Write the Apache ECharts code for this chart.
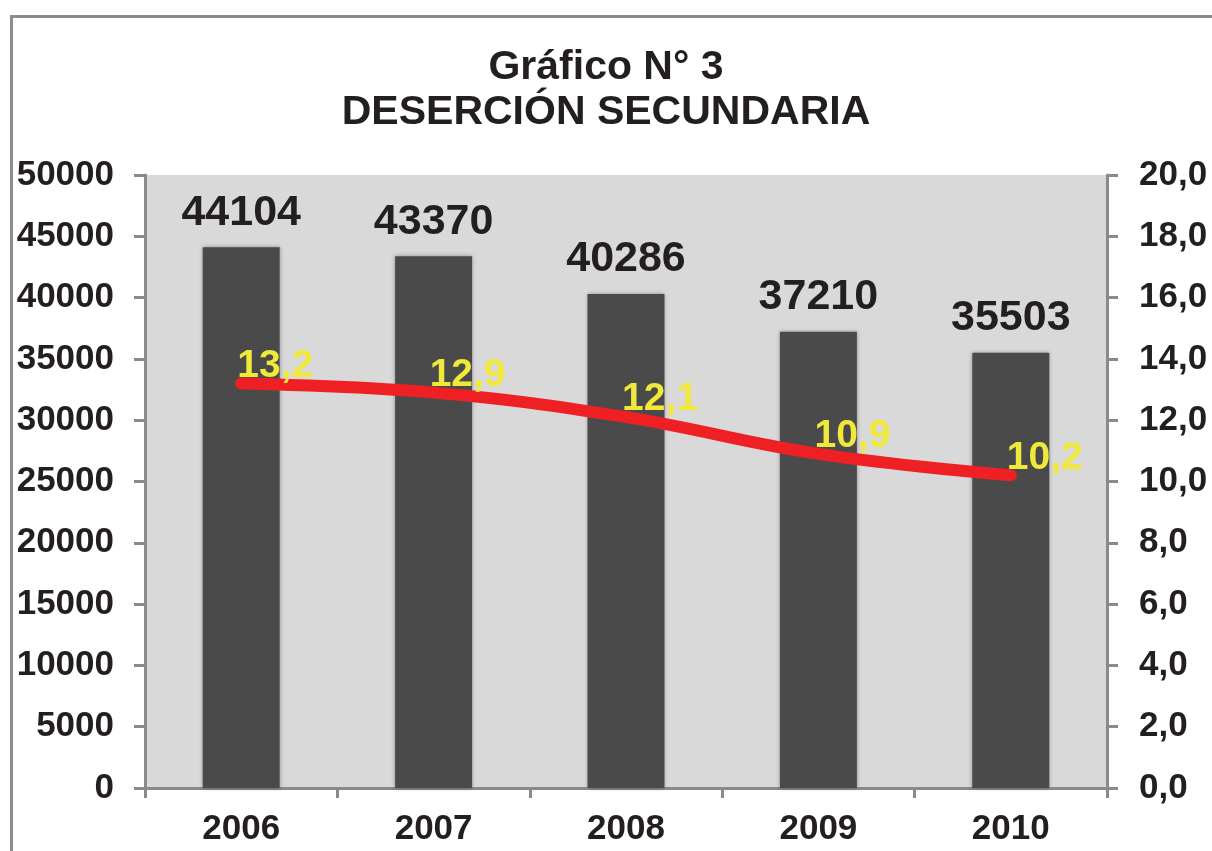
<!DOCTYPE html>
<html>
<head>
<meta charset="utf-8">
<script src="https://cdn.jsdelivr.net/npm/echarts@6/dist/echarts.min.js"></script>
<style>
  html, body { margin: 0; padding: 0; background: #fff; }
  #chart { width: 1212px; height: 851px; }
</style>
</head>
<body>
<div id="chart"></div>
<script>
// datos del gráfico
var years = ['2006', '2007', '2008', '2009', '2010'];
var desertores = [44104, 43370, 40286, 37210, 35503];
var tasa = [13.2, 12.9, 12.1, 10.9, 10.2];

var font = 'Liberation Sans, Arial, sans-serif';
var axisColor = '#8a8a8a';

var myChart = echarts.init(document.getElementById('chart'));

var option = {
  backgroundColor: '#ffffff',
  animation: false,
  title: {
    text: 'Gráfico N° 3\nDESERCIÓN SECUNDARIA',
    left: 'center',
    top: 40,
    textStyle: {
      color: '#231f20',
      fontFamily: font,
      fontWeight: 'bold',
      fontSize: 41,
      lineHeight: 45
    }
  },
  graphic: [
    {
      type: 'rect',
      left: 9,
      top: 14,
      shape: { width: 1230, height: 900 },
      style: { fill: 'none', stroke: '#8c8c8c', lineWidth: 3 },
      silent: true
    }
  ],
  grid: {
    left: 145,
    right: 105,
    top: 175,
    bottom: 63,
    show: true,
    backgroundColor: '#d9d9d9',
    borderWidth: 0
  },
  xAxis: {
    type: 'category',
    data: years,
    axisLine: { lineStyle: { color: axisColor, width: 3 } },
    axisTick: { show: true, length: 10, lineStyle: { color: axisColor, width: 3 } },
    axisLabel: {
      color: '#231f20',
      fontFamily: font,
      fontWeight: 'bold',
      fontSize: 35,
      margin: 24
    }
  },
  yAxis: [
    {
      type: 'value',
      min: 0,
      max: 50000,
      interval: 5000,
      axisLine: { show: true, lineStyle: { color: axisColor, width: 3 } },
      axisTick: { show: true, length: 11, lineStyle: { color: axisColor, width: 3 } },
      splitLine: { show: false },
      axisLabel: {
        color: '#231f20',
        fontFamily: font,
        fontWeight: 'bold',
        fontSize: 35,
        margin: 31,
        formatter: function (v) {
          return String(v);
        }
      }
    },
    {
      type: 'value',
      min: 0,
      max: 20,
      interval: 2,
      position: 'right',
      axisLine: { show: true, lineStyle: { color: axisColor, width: 3 } },
      axisTick: { show: true, length: 11, lineStyle: { color: axisColor, width: 3 } },
      splitLine: { show: false },
      axisLabel: {
        color: '#231f20',
        fontFamily: font,
        fontWeight: 'bold',
        fontSize: 35,
        margin: 32,
        formatter: function (v) {
          return v.toFixed(1).replace('.', ',');
        }
      }
    }
  ],
  series: [
    {
      type: 'bar',
      data: desertores,
      barWidth: '40%',
      itemStyle: {
        color: '#4a4a4a',
        shadowColor: 'rgba(0,0,0,0.35)',
        shadowBlur: 4
      },
      label: {
        show: true,
        position: 'top',
        distance: 13,
        color: '#231f20',
        fontFamily: font,
        fontWeight: 'bold',
        fontSize: 43
      }
    },
    {
      type: 'line',
      yAxisIndex: 1,
      data: tasa,
      smooth: 0.4,
      symbol: 'circle',
      symbolSize: 2,
      showSymbol: true,
      itemStyle: { color: 'rgba(238,32,36,0)', borderWidth: 0 },
      lineStyle: { color: '#ee2024', width: 12, cap: 'round' },
      label: {
        show: true,
        position: 'top',
        distance: -3,
        offset: [34, 0],
        color: '#f0e93a',
        fontFamily: font,
        fontWeight: 'bold',
        fontSize: 39,
        formatter: function (p) {
          return p.value.toFixed(1).replace('.', ',');
        }
      }
    }
  ]
};

myChart.setOption(option);
</script>
</body>
</html>
